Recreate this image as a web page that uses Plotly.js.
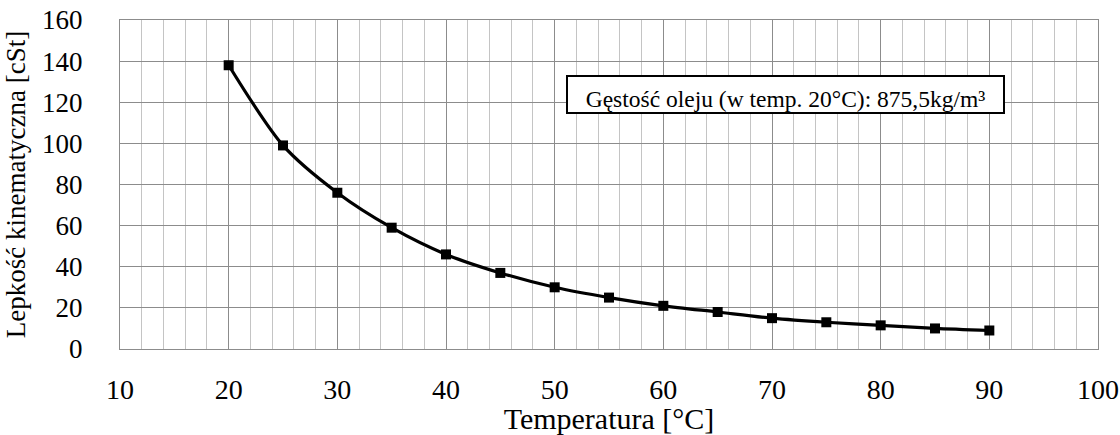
<!DOCTYPE html>
<html>
<head>
<meta charset="utf-8">
<script src="https://cdn.plot.ly/plotly-3.0.1.min.js"></script>
<style>html,body{margin:0;padding:0;background:#fff;}#chart{width:1120px;height:435px;}</style>
</head>
<body>
<div id="chart"></div>
<script>
const temperatures = [20, 25, 30, 35, 40, 45, 50, 55, 60, 65, 70, 75, 80, 85, 90];
const viscosity = [138, 99, 76, 59, 46, 37, 30, 25, 21, 18, 15, 13, 11.5, 10, 9];
const xTitle = "Temperatura [°C]";
const yTitle = "Lepkość kinematyczna [cSt]";
const noteText = "Gęstość oleju (w temp. 20°C): 875,5kg/m³";

const fam = "Liberation Serif, Times New Roman, serif";
const f = (s) => ({family: fam, color: "#000", size: s});

const trace = {
  x: temperatures, y: viscosity, type: "scatter", mode: "lines+markers",
  line: {color: "#000", width: 3.2, shape: "spline", smoothing: 0.8},
  marker: {symbol: "square", size: 10, color: "#000"},
  hoverinfo: "skip"
};

const layout = {
  width: 1120, height: 435,
  margin: {l: 119.5, r: 21.5, t: 20, b: 86},
  paper_bgcolor: "#fff", plot_bgcolor: "#fff",
  font: f(20),
  showlegend: false,
  xaxis: {
    range: [10, 100], dtick: 10, tick0: 10,
    showgrid: true, gridcolor: "#8c8c8c", gridwidth: 1,
    minor: {dtick: 2, tick0: 10, showgrid: true, gridcolor: "#c4c4c4", gridwidth: 1},
    showline: true, linecolor: "#8c8c8c", linewidth: 1, mirror: true,
    ticks: "outside", ticklen: 15, tickcolor: "rgba(0,0,0,0)", zeroline: false,
    tickfont: f(28),
    title: {text: xTitle, font: f(30), standoff: 12}
  },
  yaxis: {
    range: [0, 160], dtick: 20,
    showgrid: true, gridcolor: "#8c8c8c", gridwidth: 1,
    showline: true, linecolor: "#8c8c8c", linewidth: 1, mirror: true,
    ticks: "outside", ticklen: 31, tickcolor: "rgba(0,0,0,0)", zeroline: false,
    tickfont: f(27),
    title: {text: yTitle, font: f(27), standoff: 8}
  },
  annotations: [{
    xref: "paper", yref: "paper", x: 0.6805, y: 0.7736,
    xanchor: "center", yanchor: "middle",
    text: noteText, showarrow: false,
    font: f(23.5),
    bgcolor: "#fff", bordercolor: "#000", borderwidth: 2, borderpad: 0,
    width: 435, height: 35, valign: "bottom", align: "center"
  }]
};

Plotly.newPlot("chart", [trace], layout, {staticPlot: true, displayModeBar: false});
</script>
</body>
</html>
